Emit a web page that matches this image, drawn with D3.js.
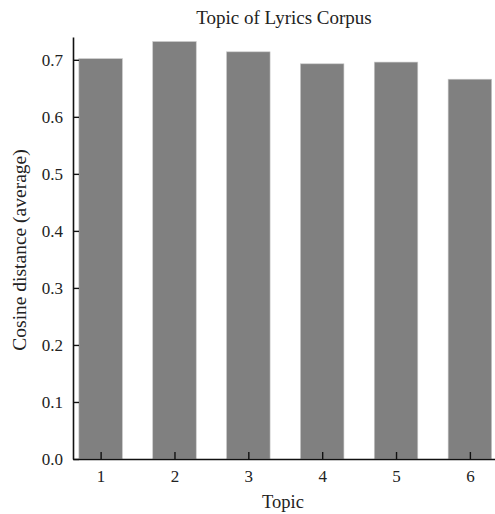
<!DOCTYPE html>
<html lang="en">
<head>
<meta charset="utf-8">
<title>Topic of Lyrics Corpus</title>
<script src="https://d3js.org/d3.v7.min.js"></script>
<style>
  body { margin: 0; background: #fff; }
  text { font-family: "Liberation Serif", "Times New Roman", serif; fill: #222; }
</style>
</head>
<body>
<script>
// data
var topics = [1, 2, 3, 4, 5, 6];
var distances = [0.702, 0.732, 0.714, 0.693, 0.696, 0.666];
var yTicks = [0.0, 0.1, 0.2, 0.3, 0.4, 0.5, 0.6, 0.7];

var width = 495, height = 514;
var mLeft = 73, mRight = 495, mTop = 37, mBottom = 459;

var svg = d3.select("body").append("svg")
    .attr("width", width)
    .attr("height", height);

var x = d3.scaleLinear().domain([0.626, 6.34]).range([mLeft, mRight]);
var y = d3.scaleLinear().domain([0, 0.74]).range([mBottom, mTop]);
var barW = 43.5;

// bars
svg.selectAll("rect.bar")
  .data(topics)
  .enter().append("rect")
    .attr("class", "bar")
    .attr("x", d => x(d) - barW / 2)
    .attr("y", (d, i) => y(distances[i]))
    .attr("width", barW)
    .attr("height", (d, i) => y(0) - y(distances[i]))
    .attr("fill", "#808080")
    .attr("stroke", "#c8c8c8")
    .attr("stroke-width", 0.6);

// axes, ticks pointing inwards
var yAxis = d3.axisLeft(y).tickValues(yTicks).tickFormat(d3.format(".1f"))
    .tickSizeInner(-6).tickSizeOuter(0).tickPadding(10);
var xAxis = d3.axisBottom(x).tickValues(topics).tickFormat(d3.format("d"))
    .tickSizeInner(-7).tickSizeOuter(0).tickPadding(11);

var gy = svg.append("g").attr("transform", "translate(" + mLeft + ",0)").call(yAxis);
var gx = svg.append("g").attr("transform", "translate(0," + mBottom + ")").call(xAxis);

[gy, gx].forEach(function (g) {
  g.attr("font-family", null);
  g.select(".domain").attr("stroke", "#111").attr("stroke-width", 1.6);
  g.selectAll(".tick line").attr("stroke", "#111").attr("stroke-width", 1.4);
  g.selectAll(".tick text")
    .style("font-family", "'Liberation Serif', 'Times New Roman', serif")
    .attr("font-size", 17)
    .attr("fill", "#222");
});

// title and labels
svg.append("text")
    .attr("x", 284).attr("y", 24)
    .attr("text-anchor", "middle")
    .attr("font-size", 19)
    .text("Topic of Lyrics Corpus");

svg.append("text")
    .attr("x", 283).attr("y", 508)
    .attr("text-anchor", "middle")
    .attr("font-size", 18.5)
    .text("Topic");

svg.append("text")
    .attr("transform", "translate(26,250) rotate(-90)")
    .attr("text-anchor", "middle")
    .attr("font-size", 19.5)
    .text("Cosine distance (average)");
</script>
</body>
</html>
